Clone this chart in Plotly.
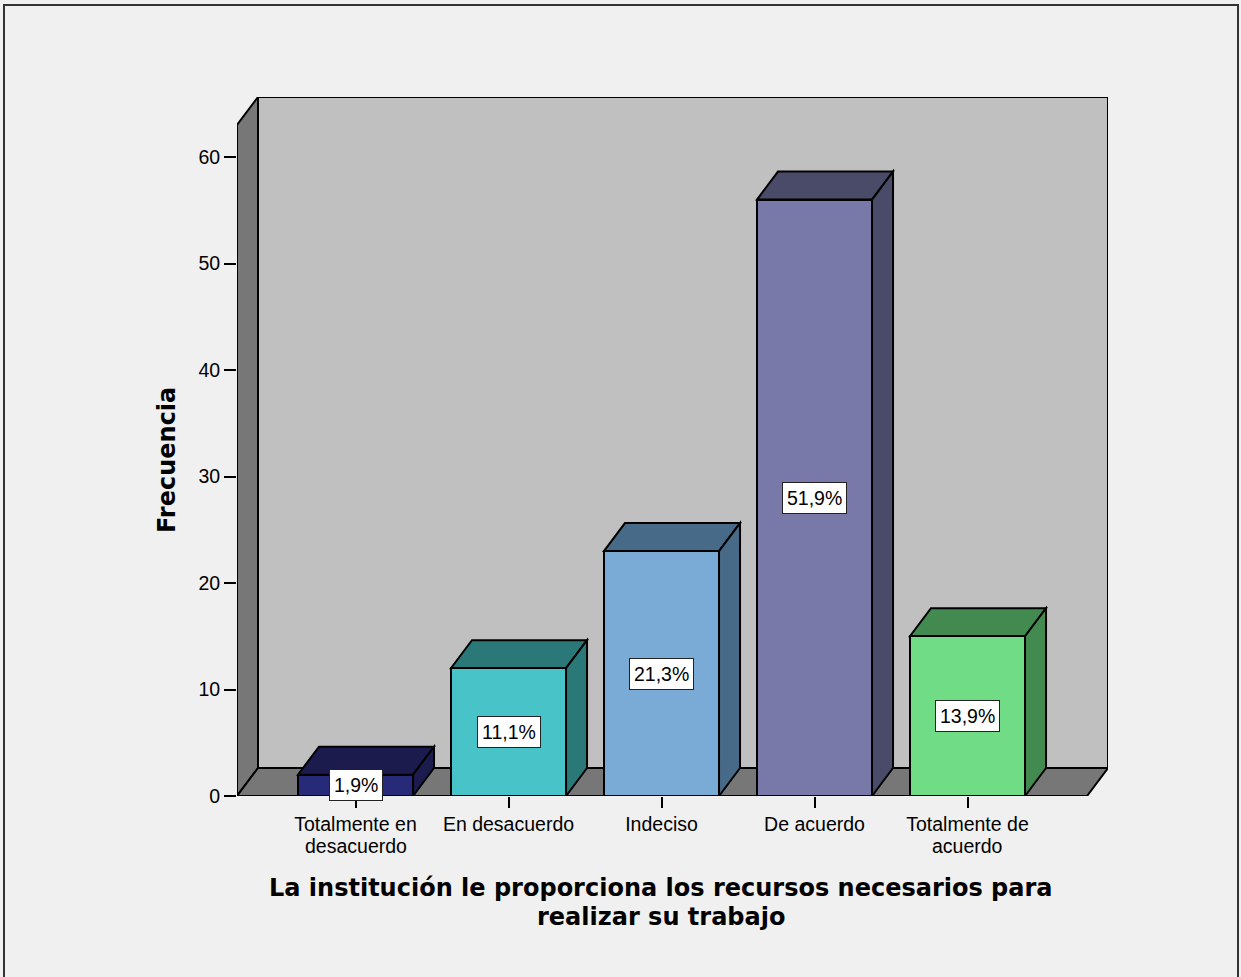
import plotly.graph_objects as go

# Survey responses
tick_line1 = ["Totalmente en", "En desacuerdo", "Indeciso", "De acuerdo", "Totalmente de"]
tick_line2 = ["desacuerdo", "", "", "", "acuerdo"]
counts = [2, 12, 23, 56, 15]
y_ticks = [0, 10, 20, 30, 40, 50, 60]
x_title = ["La institución le proporciona los recursos necesarios para",
           "realizar su trabajo"]
y_title = "Frecuencia"

front_colors = ["#272a78", "#48c4c8", "#7aabd7", "#7979a9", "#70dd86"]
shade_colors = ["#1b1c4d", "#2a7878", "#466a88", "#4a4a69", "#428a4f"]

total = sum(counts)
percents = [round(c / total * 100, 1) for c in counts]

# Plot-area geometry (pixels) and depth of the pseudo-3D box
W, H = 1241, 977
L, R, T, B = 237, 133, 97, 181
plot_w, plot_h = W - L - R, H - T - B
px_per_x = 153.0
px_per_y = 10.65
x_min = -0.7745
x_max = x_min + plot_w / px_per_x
y_max = plot_h / px_per_y
dx = 21 / px_per_x          # depth offset in category units
dy = 28 / px_per_y          # depth offset in value units
wall_h = y_max - dy
half_w = 0.376
x_front_right = x_max - dx

TICK_FONT = dict(family="Liberation Sans, Arial", size=19.5, color="black")
TITLE_FONT = dict(family="DejaVu Sans", size=24, color="black")


def poly(pts, fill, layer="below", width=2):
    path = "M " + " L ".join(f"{x},{y}" for x, y in pts) + " Z"
    return dict(type="path", path=path, xref="x", yref="y",
                fillcolor=fill, line=dict(color="black", width=width),
                layer=layer)


shapes = []
# back wall
shapes.append(poly([(x_min + dx, dy), (x_max, dy), (x_max, y_max),
                    (x_min + dx, y_max)], "#c0c0c0"))
# left wall
shapes.append(poly([(x_min, 0), (x_min + dx, dy), (x_min + dx, y_max),
                    (x_min, wall_h)], "#777777"))
# floor
shapes.append(poly([(x_min, 0), (x_front_right, 0), (x_max, dy),
                    (x_min + dx, dy)], "#777777"))

# top and side faces of each bar
for i, v in enumerate(counts):
    xl, xr = i - half_w, i + half_w
    shapes.append(poly([(xl, v), (xr, v), (xr + dx, v + dy), (xl + dx, v + dy)],
                       shade_colors[i]))
    shapes.append(poly([(xr, 0), (xr, v), (xr + dx, v + dy), (xr + dx, dy)],
                       shade_colors[i]))


def px_to_paper(px, py):
    return (px - L) / plot_w, (H - B - py) / plot_h


# outer frame
fx0, fy0 = px_to_paper(4, 1000)
fx1, fy1 = px_to_paper(1238, 5)
shapes.append(dict(type="rect", xref="paper", yref="paper",
                   x0=fx0, y0=fy0, x1=fx1, y1=fy1,
                   line=dict(color="#333333", width=2), layer="above"))

fig = go.Figure()
fig.add_trace(go.Bar(
    x=list(range(len(counts))), y=counts, width=2 * half_w,
    marker=dict(color=front_colors, line=dict(color="black", width=2)),
    hoverinfo="skip", showlegend=False,
))

annotations = []
for i, (v, p) in enumerate(zip(counts, percents)):
    annotations.append(dict(
        x=i, y=v / 2, xref="x", yref="y",
        text=f"{p:.1f}".replace(".", ",") + "%",
        showarrow=False, bgcolor="white", bordercolor="#222222",
        borderwidth=1, borderpad=4,
        font=dict(family="Liberation Sans, Arial", size=19.5, color="black"),
    ))

# second line of the two-line category labels
for i, txt in enumerate(tick_line2):
    if txt:
        _, py = px_to_paper(0, 846)
        annotations.append(dict(
            x=i, y=py, xref="x", yref="paper", showarrow=False,
            text=txt, font=TICK_FONT, xanchor="center", yanchor="middle",
            borderpad=0,
        ))

for line, ypx in zip(x_title, [888, 917]):
    ax, ay = px_to_paper(661, ypx)
    annotations.append(dict(
        x=ax, y=ay, xref="paper", yref="paper", showarrow=False,
        text=f"<b>{line}</b>", font=TITLE_FONT,
        xanchor="center", yanchor="middle",
    ))

tx, ty = px_to_paper(167, 460)
annotations.append(dict(
    x=tx, y=ty, xref="paper", yref="paper", showarrow=False,
    text=f"<b>{y_title}</b>", textangle=-90, font=TITLE_FONT,
    xanchor="center", yanchor="middle",
))

fig.update_layout(
    width=W, height=H, autosize=False,
    margin=dict(l=L, r=R, t=T, b=B, pad=0),
    paper_bgcolor="#f0f0f0", plot_bgcolor="rgba(0,0,0,0)",
    shapes=shapes, annotations=annotations,
    bargap=0,
    xaxis=dict(
        range=[x_min, x_max], tickvals=list(range(len(tick_line1))),
        ticktext=tick_line1, ticks="outside", ticklen=11, tickwidth=2,
        tickcolor="black", showgrid=False, zeroline=False, showline=False,
        tickfont=TICK_FONT, fixedrange=True,
    ),
    yaxis=dict(
        range=[0, y_max], tickvals=y_ticks, ticks="outside", ticklen=12,
        tickwidth=2, tickcolor="black", showgrid=False, zeroline=False,
        showline=False, tickfont=TICK_FONT, fixedrange=True,
    ),
)

fig.write_html("out.html")
